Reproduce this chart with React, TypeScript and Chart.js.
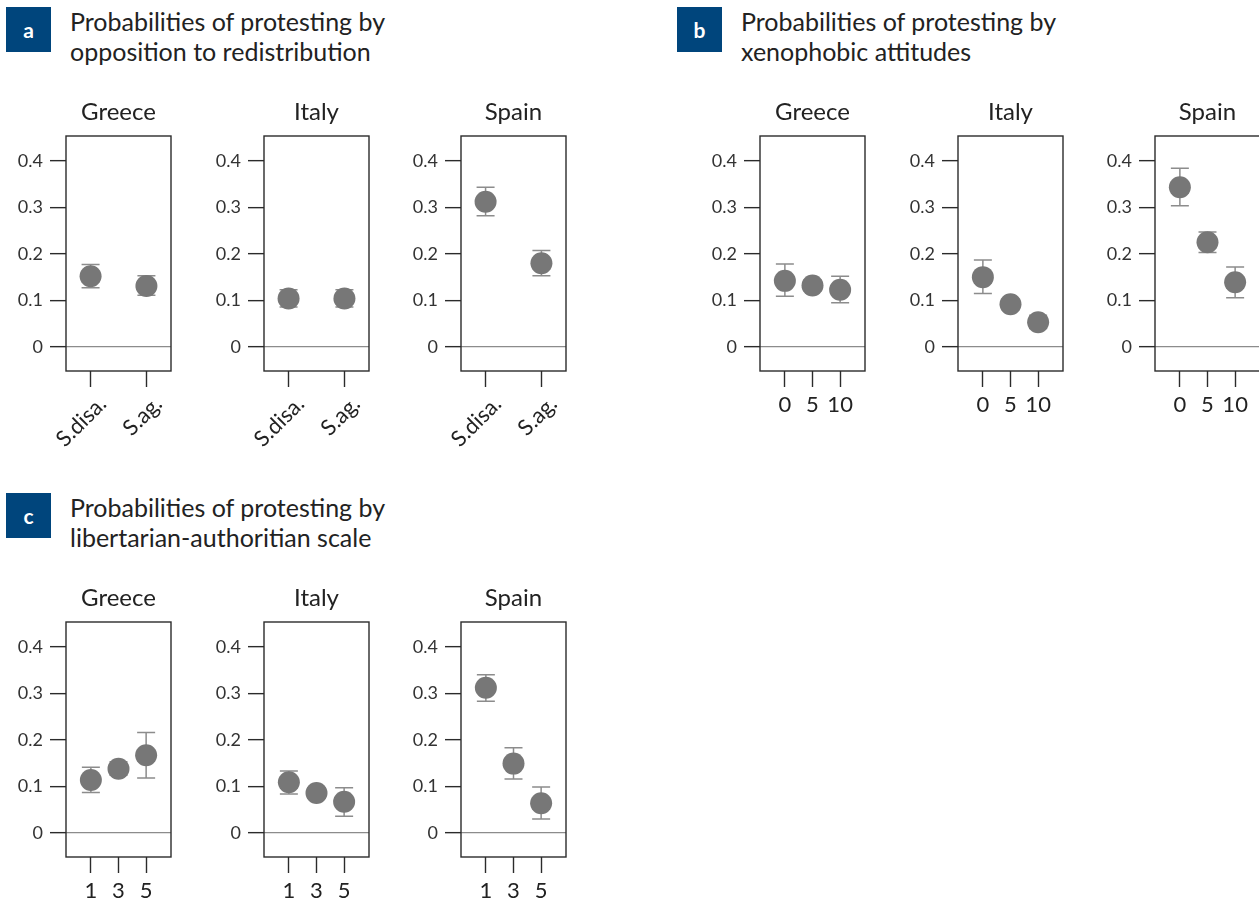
import React, { useEffect, useRef } from "react";
import { Chart, registerables } from "chart.js";

Chart.register(...registerables);

// ---------- data ----------
const Y_TICKS = [0, 0.1, 0.2, 0.3, 0.4];

const A_LABELS = ["S.disa.", "S.ag."];
const A_GREECE = [0.152, 0.131];
const A_GREECE_LO = [0.127, 0.111];
const A_GREECE_HI = [0.177, 0.153];
const A_ITALY = [0.104, 0.104];
const A_ITALY_LO = [0.086, 0.086];
const A_ITALY_HI = [0.123, 0.123];
const A_SPAIN = [0.312, 0.18];
const A_SPAIN_LO = [0.282, 0.153];
const A_SPAIN_HI = [0.343, 0.207];

const B_LABELS = ["0", "5", "10"];
const B_GREECE = [0.142, 0.132, 0.123];
const B_GREECE_LO = [0.109, 0.121, 0.095];
const B_GREECE_HI = [0.178, 0.144, 0.152];
const B_ITALY = [0.15, 0.092, 0.053];
const B_ITALY_LO = [0.115, 0.083, 0.04];
const B_ITALY_HI = [0.187, 0.102, 0.068];
const B_SPAIN = [0.343, 0.225, 0.139];
const B_SPAIN_LO = [0.303, 0.203, 0.106];
const B_SPAIN_HI = [0.384, 0.247, 0.172];

const C_LABELS = ["1", "3", "5"];
const C_GREECE = [0.114, 0.138, 0.167];
const C_GREECE_LO = [0.087, 0.124, 0.118];
const C_GREECE_HI = [0.141, 0.153, 0.216];
const C_ITALY = [0.109, 0.086, 0.067];
const C_ITALY_LO = [0.084, 0.075, 0.036];
const C_ITALY_HI = [0.133, 0.097, 0.097];
const C_SPAIN = [0.312, 0.149, 0.064];
const C_SPAIN_LO = [0.283, 0.116, 0.03];
const C_SPAIN_HI = [0.34, 0.183, 0.099];

const FONT = "Lato, 'Open Sans', sans-serif";
const BLUE = "#00457c";

type PanelProps = {
  boxLeft: number;
  boxTop: number;
  xAxisH: number;
  country: string;
  labels: string[];
  values: number[];
  lo: number[];
  hi: number[];
  rotate?: boolean;
};

const BOX_W = 105;
const BOX_H = 235;
const Y_AXIS_W = 60;
const TITLE_H = 40;
const PAD_R = 8;

function Panel(p: PanelProps) {
  const ref = useRef<HTMLCanvasElement | null>(null);
  const W = Y_AXIS_W + BOX_W + PAD_R;
  const H = TITLE_H + BOX_H + p.xAxisH;

  useEffect(() => {
    if (!ref.current) return;
    const n = p.labels.length;
    const xMin = n === 2 ? -0.44 : -0.9;
    const xMax = n === 2 ? 1.44 : 2.9;

    const boxPlugin = {
      id: "boxFrame",
      afterDraw(chart: any) {
        const { ctx, chartArea: a } = chart;
        ctx.save();
        ctx.strokeStyle = "#2b2b2b";
        ctx.lineWidth = 1.4;
        ctx.strokeRect(a.left, a.top, a.right - a.left, a.bottom - a.top);
        ctx.restore();
      },
    };
    const errPlugin = {
      id: "errBars",
      beforeDatasetsDraw(chart: any) {
        const { ctx } = chart;
        const xs = chart.scales.x;
        const ys = chart.scales.y;
        ctx.save();
        ctx.strokeStyle = "#8c8c8c";
        ctx.lineWidth = 1.5;
        p.values.forEach((_, i) => {
          const x = xs.getPixelForValue(i);
          const y1 = ys.getPixelForValue(p.lo[i]);
          const y2 = ys.getPixelForValue(p.hi[i]);
          ctx.beginPath();
          ctx.moveTo(x, y1);
          ctx.lineTo(x, y2);
          ctx.moveTo(x - 9, y1);
          ctx.lineTo(x + 9, y1);
          ctx.moveTo(x - 9, y2);
          ctx.lineTo(x + 9, y2);
          ctx.stroke();
        });
        ctx.restore();
      },
    };

    const chart = new Chart(ref.current, {
      type: "scatter",
      data: {
        datasets: [
          {
            data: p.values.map((v, i) => ({ x: i, y: v })),
            backgroundColor: "#777777",
            borderWidth: 0,
            pointRadius: 11,
            pointHoverRadius: 11,
            clip: false,
          },
        ],
      },
      options: {
        animation: false,
        responsive: false,
        devicePixelRatio: 1,
        layout: { autoPadding: false, padding: { left: 0, right: PAD_R, top: 0, bottom: 0 } },
        plugins: {
          legend: { display: false },
          tooltip: { enabled: false },
          title: {
            display: true,
            fullSize: false,
            align: "center",
            text: p.country,
            color: "#222",
            font: { family: FONT, size: 24, weight: "normal", lineHeight: 1.2 },
            padding: { top: 1.6, bottom: 9.6 },
          } as any,
        },
        scales: {
          x: {
            type: "linear",
            min: xMin,
            max: xMax,
            afterBuildTicks: (s: any) => {
              s.ticks = p.labels.map((_, i) => ({ value: i }));
            },
            afterFit: (s: any) => {
              s.height = p.xAxisH;
              s.paddingLeft = 0;
              s.paddingRight = 0;
            },
            border: { display: false },
            grid: {
              drawOnChartArea: false,
              drawTicks: true,
              tickLength: 16,
              tickColor: "#2b2b2b",
              tickWidth: 1.4,
            },
            ticks: {
              autoSkip: false,
              maxRotation: p.rotate ? 45 : 0,
              minRotation: p.rotate ? 45 : 0,
              padding: p.rotate ? 4 : 5,
              labelOffset: p.rotate ? 12 : 0,
              color: "#222",
              font: { family: FONT, size: p.rotate ? 22 : 22 },
              callback: (_v: any, i: number) => p.labels[i],
            },
          },
          y: {
            type: "linear",
            min: -0.0515,
            max: 0.453,
            afterBuildTicks: (s: any) => {
              s.ticks = Y_TICKS.map((v) => ({ value: v }));
            },
            afterFit: (s: any) => {
              s.width = Y_AXIS_W;
              s.paddingTop = 0;
              s.paddingBottom = 0;
            },
            border: { display: false },
            grid: {
              drawOnChartArea: true,
              color: (c: any) =>
                c.tick && c.tick.value === 0 ? "#8c8c8c" : "rgba(0,0,0,0)",
              lineWidth: 1.3,
              tickLength: 16,
              tickColor: "#2b2b2b",
              tickWidth: 1.4,
            },
            ticks: {
              padding: 7,
              color: "#333",
              font: { family: FONT, size: 18 },
              callback: (v: any) => (v === 0 ? "0" : Number(v).toFixed(1)),
            },
          },
        },
      },
      plugins: [errPlugin, boxPlugin],
    } as any);
    return () => chart.destroy();
  }, []);

  return (
    <canvas
      ref={ref}
      width={W}
      height={H}
      style={{
        position: "absolute",
        left: p.boxLeft - Y_AXIS_W,
        top: p.boxTop - TITLE_H,
        width: W,
        height: H,
      }}
    />
  );
}

function Header(props: { letter: string; left: number; top: number; lines: string[] }) {
  return (
    <>
      <div
        style={{
          position: "absolute",
          left: props.left,
          top: props.top,
          width: 45,
          height: 45,
          background: BLUE,
          color: "#fff",
          fontFamily: FONT,
          fontWeight: 700,
          fontSize: 21,
          display: "flex",
          alignItems: "center",
          justifyContent: "center",
        }}
      >
        {props.letter}
      </div>
      <div
        style={{
          position: "absolute",
          left: props.left + 64,
          top: props.top - 1.5,
          fontFamily: FONT,
          fontSize: 25,
          lineHeight: "30px",
          color: "#222",
          whiteSpace: "nowrap",
        }}
      >
        {props.lines.map((l, i) => (
          <div key={i}>{l}</div>
        ))}
      </div>
    </>
  );
}

export default function App() {
  const rowA = 136;
  const rowC = 621.7;
  return (
    <div
      style={{
        position: "fixed",
        left: 0,
        top: 0,
        width: 1259,
        height: 900,
        overflow: "hidden",
        background: "#fff",
      }}
    >
      <Header letter="a" left={6} top={7} lines={["Probabilities of protesting by", "opposition to redistribution"]} />
      <Header letter="b" left={677} top={7} lines={["Probabilities of protesting by", "xenophobic attitudes"]} />
      <Header letter="c" left={6} top={493} lines={["Probabilities of protesting by", "libertarian-authoritian scale"]} />

      <Panel boxLeft={66} boxTop={rowA} xAxisH={90} country="Greece" labels={A_LABELS} values={A_GREECE} lo={A_GREECE_LO} hi={A_GREECE_HI} rotate />
      <Panel boxLeft={263.7} boxTop={rowA} xAxisH={90} country="Italy" labels={A_LABELS} values={A_ITALY} lo={A_ITALY_LO} hi={A_ITALY_HI} rotate />
      <Panel boxLeft={461} boxTop={rowA} xAxisH={90} country="Spain" labels={A_LABELS} values={A_SPAIN} lo={A_SPAIN_LO} hi={A_SPAIN_HI} rotate />

      <Panel boxLeft={760} boxTop={rowA} xAxisH={50} country="Greece" labels={B_LABELS} values={B_GREECE} lo={B_GREECE_LO} hi={B_GREECE_HI} />
      <Panel boxLeft={958} boxTop={rowA} xAxisH={50} country="Italy" labels={B_LABELS} values={B_ITALY} lo={B_ITALY_LO} hi={B_ITALY_HI} />
      <Panel boxLeft={1155.3} boxTop={rowA} xAxisH={50} country="Spain" labels={B_LABELS} values={B_SPAIN} lo={B_SPAIN_LO} hi={B_SPAIN_HI} />

      <Panel boxLeft={66} boxTop={rowC} xAxisH={44} country="Greece" labels={C_LABELS} values={C_GREECE} lo={C_GREECE_LO} hi={C_GREECE_HI} />
      <Panel boxLeft={263.7} boxTop={rowC} xAxisH={44} country="Italy" labels={C_LABELS} values={C_ITALY} lo={C_ITALY_LO} hi={C_ITALY_HI} />
      <Panel boxLeft={461} boxTop={rowC} xAxisH={44} country="Spain" labels={C_LABELS} values={C_SPAIN} lo={C_SPAIN_LO} hi={C_SPAIN_HI} />
    </div>
  );
}
